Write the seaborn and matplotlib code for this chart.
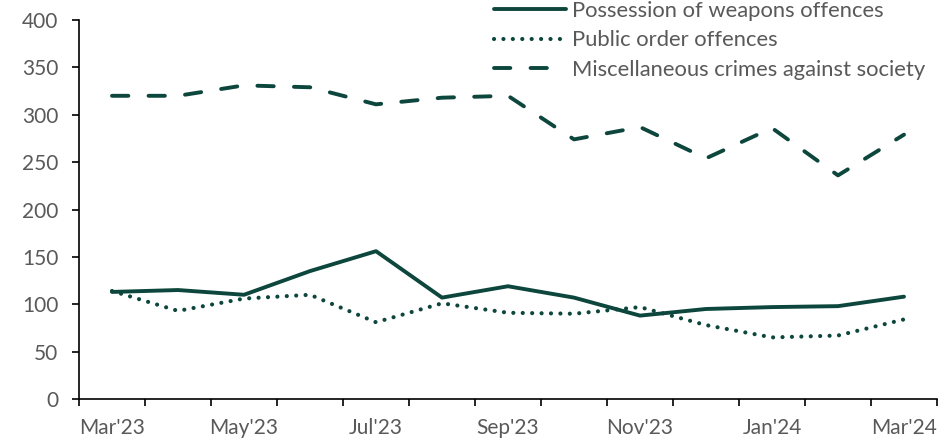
import matplotlib
matplotlib.use("Agg")
import matplotlib.pyplot as plt
import seaborn as sns
import pandas as pd
import numpy as np

months = ["Mar'23", "Apr'23", "May'23", "Jun'23", "Jul'23", "Aug'23", "Sep'23",
          "Oct'23", "Nov'23", "Dec'23", "Jan'24", "Feb'24", "Mar'24"]
weapons = [113, 115, 110, 135, 156, 107, 119, 107, 88, 95, 97, 98, 108]
public_order = [114, 93, 106, 110, 81, 101, 91, 90, 97, 78, 65, 67, 84]
misc = [320, 320, 331, 329, 311, 318, 320, 274, 287, 254, 286, 236, 279]
series_names = ["Possession of weapons offences", "Public order offences",
                "Miscellaneous crimes against society"]

sns.set_theme(style="white")
plt.rcParams['font.family'] = ['Lato', 'DejaVu Sans']

color = "#0D463C"
text_color = "#595959"
fs = 15

fig = plt.figure(figsize=(9.51, 4.40), dpi=100)
ax = fig.add_axes([79/951, 41/440, (937-79)/951, (399-20)/440])

x = np.arange(len(months))
df = pd.DataFrame({"x": x, "w": weapons, "p": public_order, "m": misc})

sns.lineplot(data=df, x="x", y="w", ax=ax, color=color, lw=2.8,
             label=series_names[0], solid_capstyle="round")
sns.lineplot(data=df, x="x", y="p", ax=ax, color=color, lw=3.0,
             label=series_names[1], linestyle=(0, (0.01, 2.25)),
             dash_capstyle="round")
sns.lineplot(data=df, x="x", y="m", ax=ax, color=color, lw=2.8,
             label=series_names[2], linestyle=(0, (4.2, 5.2)),
             dash_capstyle="round")

ax.set_xlim(-0.5, len(months) - 0.5)
ax.set_ylim(0, 400)
ax.set_yticks(range(0, 401, 50))
ax.set_xticks(x[::2])
ax.set_xticklabels(months[::2])
ax.set_xticks(np.arange(-0.5, len(months), 1), minor=True)
ax.tick_params(axis="x", which="major", length=0, pad=13.5, labelsize=fs,
               labelcolor=text_color)
ax.tick_params(axis="x", which="minor", length=5, width=1.2, color="black",
               direction="out", bottom=True)
ax.tick_params(axis="y", length=5, width=1.2, color="black", direction="out",
               left=True, labelsize=fs, labelcolor=text_color, pad=10)
ax.set_xlabel("")
ax.set_ylabel("")
for s in ["top", "right"]:
    ax.spines[s].set_visible(False)
for s in ["left", "bottom"]:
    ax.spines[s].set_color("black")
    ax.spines[s].set_linewidth(1.2)

leg = ax.legend(loc="upper left", bbox_to_anchor=(494/951, 1 - 1/440),
                bbox_transform=fig.transFigure, frameon=False,
                fontsize=15.8, handlelength=3.3, handletextpad=0.25,
                labelspacing=0.43, borderaxespad=0, borderpad=0)
for t in leg.get_texts():
    t.set_color(text_color)

fig.savefig("out.png", dpi=100)
